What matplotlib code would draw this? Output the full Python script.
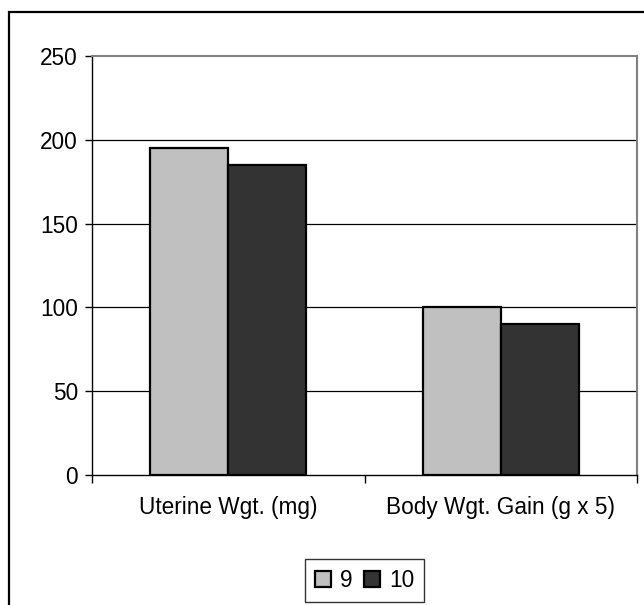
import matplotlib
matplotlib.use("Agg")
import matplotlib.pyplot as plt
import numpy as np
from matplotlib.patches import Rectangle

categories = ["Uterine Wgt. (mg)", "Body Wgt. Gain (g x 5)"]
series_names = ["9", "10"]
values_9 = [195, 100]
values_10 = [185, 90]
colors = ["#c0c0c0", "#333333"]
yticks = [0, 50, 100, 150, 200, 250]

plt.rcParams['font.family'] = ['Liberation Sans', 'DejaVu Sans']

W, H = 644, 605
fig = plt.figure(figsize=(W / 100, H / 100), dpi=100)
# plot area in pixels
left, right, top, bottom = 92, 637, 56, 475
ax = fig.add_axes([left / W, 1 - bottom / H, (right - left) / W, (bottom - top) / H])

# outer chart frame
fig.patches.append(Rectangle((9 / W, -0.05), 1.1, 1 - 12 / H + 0.05, transform=fig.transFigure,
                             fill=False, edgecolor="black", linewidth=1.6))

FS = 16.3
x = np.arange(len(categories))
bw = 1 / 3.5
ax.bar(x - bw / 2, values_9, bw, color=colors[0], edgecolor="black", linewidth=1.6, label=series_names[0], zorder=3)
ax.bar(x + bw / 2, values_10, bw, color=colors[1], edgecolor="black", linewidth=1.6, label=series_names[1], zorder=3)

ax.set_xlim(-0.5, len(categories) - 0.5)
ax.set_ylim(0, 250)
ax.set_yticks(yticks)
ax.set_yticklabels([str(v) for v in yticks], fontsize=FS)
ax.tick_params(axis='y', direction='out', length=5, width=1, pad=5)

ax.set_xticks(x)
ax.set_xticklabels(categories, fontsize=FS)
ax.tick_params(axis='x', length=0, pad=15)
# category separator ticks
ax.set_xticks(np.arange(-0.5, len(categories)), minor=True)
ax.tick_params(axis='x', which='minor', direction='out', length=6, width=1)

for v in yticks[1:-1]:
    ax.axhline(v, color="black", linewidth=0.9, zorder=1)

ax.spines['left'].set_color('black')
ax.spines['bottom'].set_color('black')
ax.spines['top'].set_color('#808080')
ax.spines['right'].set_color('#808080')
for s in ax.spines.values():
    s.set_linewidth(1.0)
ax.spines['top'].set_linewidth(1.5)
ax.spines['right'].set_linewidth(1.5)

leg = fig.legend(loc='center', bbox_to_anchor=(364.5 / W, 1 - 580.5 / H), ncol=2, frameon=True,
                 fontsize=FS, handlelength=0.7, handleheight=0.7, handletextpad=0.4,
                 columnspacing=0.5, borderpad=0.45, borderaxespad=0, fancybox=False, edgecolor='black')
leg.get_frame().set_linewidth(1.0)

fig.savefig("out.png", dpi=100)
